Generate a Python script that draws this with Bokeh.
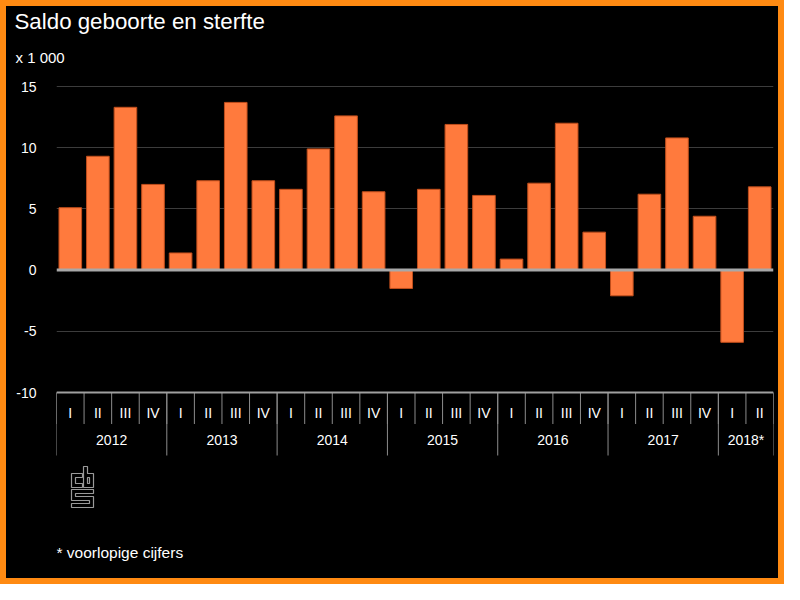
from bokeh.plotting import figure
from bokeh.layouts import column
from bokeh.models import Range1d, FixedTicker, Span, Title, ColumnDataSource
from bokeh.core.properties import value
from bokeh.embed import file_html
from bokeh.resources import INLINE

# ---- data ----
years = ["2012", "2013", "2014", "2015", "2016", "2017", "2018*"]
quarters_per_year = [4, 4, 4, 4, 4, 4, 2]
quarter_names = ["I", "II", "III", "IV"]
saldo = [5.1, 9.3, 13.3, 7.0,
         1.4, 7.3, 13.7, 7.3,
         6.6, 9.9, 12.6, 6.4,
         -1.5, 6.6, 11.9, 6.1,
         0.9, 7.1, 12.0, 3.1,
         -2.1, 6.2, 10.8, 4.4,
         -5.9, 6.8]
y_ticks = [-10, -5, 0, 5, 10, 15]
y_tick_labels = ["-10", "-5", "0", "5", "10", "15"]
title_text = "Saldo geboorte en sterfte"
unit_text = "x 1 000"
note_text = "* voorlopige cijfers"

quarter_labels = [q for n in quarters_per_year for q in quarter_names[:n]]
idx = list(range(len(saldo)))
year_centers, year_bounds = [], [-0.5]
pos = 0
for n in quarters_per_year:
    year_centers.append(pos + (n - 1) / 2)
    pos += n
    year_bounds.append(pos - 0.5)
quarter_bounds = [i - 0.5 for i in range(len(saldo) + 1)]

# ---- layout (screen pixels; the figure sits inside a 6px border) ----
FONT = "Liberation Sans"
B = 6
W, H = 784 - 2 * B, 584 - 2 * B
S_LEFT, S_RIGHT = 56, 773
S_TOP = 78                     # frame top
S_Y15, S_YM10 = 86, 392        # rows of y=15 and y=-10
S_BOTTOM = 578
PPU = (S_YM10 - S_Y15) / (max(y_ticks) - min(y_ticks))
CPX = (S_RIGHT - S_LEFT) / len(saldo)


def ydat(sy):
    return max(y_ticks) - (sy - S_Y15) / PPU


def xdat(sx):
    return -0.5 + (sx - S_LEFT) / CPX


p = figure(width=W, height=H,
           x_range=Range1d(-0.5, len(saldo) - 0.5),
           y_range=Range1d(ydat(S_BOTTOM), ydat(S_TOP)),
           output_backend="svg", toolbar_location=None,
           min_border_left=S_LEFT - B, min_border_right=W - (S_RIGHT - B),
           min_border_top=S_TOP - B, min_border_bottom=max(H - (S_BOTTOM - B), 0),
           background_fill_color="black", border_fill_color="black",
           outline_line_color=None)

# grid
p.xgrid.grid_line_color = None
p.ygrid.ticker = FixedTicker(ticks=[t for t in y_ticks if t not in (min(y_ticks), 0)])
p.ygrid.grid_line_color = "#3c3c3c"

# bars
src = ColumnDataSource(dict(x=idx, top=saldo))
p.vbar(x="x", top="top", bottom=0, width=0.82, source=src,
       fill_color="#ff7a3d", line_color="#c04e1c", line_width=1)

# zero line and category axis line
p.add_layout(Span(location=0, dimension="width", line_color="#a8a8a8",
                  line_width=3, level="overlay"))
p.add_layout(Span(location=min(y_ticks), dimension="width", line_color="#a0a0a0",
                  line_width=2, level="overlay"))

# category separators
yq_end = ydat(423.5)
yy_end = ydat(455)
p.segment(x0=quarter_bounds, x1=quarter_bounds, y0=[min(y_ticks)] * len(quarter_bounds),
          y1=[yq_end] * len(quarter_bounds), line_color="#8c8c8c", line_width=1)
p.segment(x0=year_bounds, x1=year_bounds, y0=[min(y_ticks)] * len(year_bounds),
          y1=[yy_end] * len(year_bounds), line_color="#8c8c8c", line_width=1)

# category labels
p.text(x=idx, y=[ydat(412.5)] * len(idx), text=quarter_labels,
       text_font=value(FONT), text_font_size=value("14px"), text_color="white",
       text_align="center", text_baseline="middle")
p.text(x=year_centers, y=[ydat(439)] * len(year_centers), text=years,
       text_font=value(FONT), text_font_size=value("14px"), text_color="white",
       text_align="center", text_baseline="middle")

# y axis
ya = p.yaxis[0]
ya.ticker = FixedTicker(ticks=y_ticks)
ya.major_label_overrides = {t: s for t, s in zip(y_ticks, y_tick_labels)}
ya.axis_line_color = None
ya.major_tick_line_color = None
ya.minor_tick_line_color = None
ya.major_tick_out = 0
ya.major_tick_in = 0
ya.major_label_standoff = 20
ya.major_label_text_color = "white"
ya.major_label_text_font = FONT
ya.major_label_text_font_size = "14px"
p.xaxis.visible = False

# footnote
p.text(x=[xdat(56)], y=[ydat(552)], text=[note_text], text_font=value(FONT),
       text_font_size=value("15.5px"), text_color="white", text_align="left",
       text_baseline="alphabetic")

# CBS logo (outline)
LX, LY = 71, 466
shapes = [
    [(0, 7), (11, 7), (11, 11), (4, 11), (4, 17), (11, 17), (11, 21), (0, 21)],
    [(12, 0), (16, 0), (16, 7), (22, 7), (22, 21), (12, 21)],
    [(16, 11), (18, 11), (18, 17), (16, 17)],
    [(0, 23), (22, 23), (22, 27), (4, 27), (4, 30), (22, 30), (22, 41),
     (0, 41), (0, 37), (18, 37), (18, 34), (0, 34)],
]
p.patches(xs=[[xdat(LX + a) for a, b in s] for s in shapes],
          ys=[[ydat(LY + b) for a, b in s] for s in shapes],
          fill_color=None, line_color="#9a9a9a", line_width=1.2)

# titles
p.add_layout(Title(text=unit_text, align="left", offset=-41, standoff=26,
                   text_color="white", text_font=FONT, text_font_size="15px",
                   text_font_style="normal"), "above")
p.add_layout(Title(text=title_text, align="left", offset=-42, standoff=0,
                   text_color="white", text_font=FONT, text_font_size="22.3px",
                   text_font_style="normal"), "above")

page = column(p, styles={"border": "6px solid #ff8a12", "box-sizing": "content-box",
                         "background-color": "black"})
open("out.html", "w").write(file_html(page, INLINE))
